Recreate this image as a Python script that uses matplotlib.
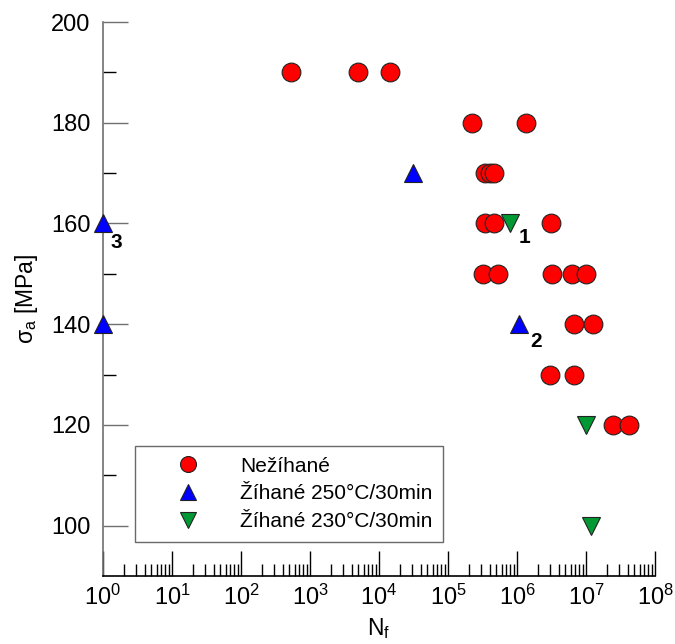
import numpy as np
import matplotlib
matplotlib.use("Agg")
import matplotlib.pyplot as plt
from matplotlib.ticker import LogLocator, FixedLocator, FuncFormatter

plt.rcParams['font.family'] = ['Liberation Sans', 'DejaVu Sans']
plt.rcParams['mathtext.fontset'] = 'custom'
plt.rcParams['mathtext.rm'] = 'Liberation Sans'
plt.rcParams['mathtext.it'] = 'Liberation Sans:italic'

# Nežíhané (red circles)
n_cycles = [530, 5000, 14400,
            2.2e5, 1.35e6,
            3.4e5, 4.1e5, 4.6e5,
            3.4e5, 4.6e5, 3.1e6,
            3.2e5, 5.3e5, 3.2e6, 6.3e6, 1.0e7,
            6.7e6, 1.26e7,
            3.0e6, 6.7e6,
            2.5e7, 4.2e7]
n_stress = [190, 190, 190,
            180, 180,
            170, 170, 170,
            160, 160, 160,
            150, 150, 150, 150, 150,
            140, 140,
            130, 130,
            120, 120]

# Žíhané 250°C/30min (blue up triangles)
a250_cycles = [1, 1, 3.1e4, 1.07e6]
a250_stress = [160, 140, 170, 140]

# Žíhané 230°C/30min (green down triangles)
a230_cycles = [7.9e5, 1.0e7, 1.18e7]
a230_stress = [160, 120, 100]

labels = ["Nežíhané", "Žíhané 250°C/30min", "Žíhané 230°C/30min"]

fig = plt.figure(figsize=(6.75, 6.44), dpi=100)
ax = fig.add_axes([0.1526, 0.1056, 0.8178, 0.8602])

ms = 13.5
ax.plot(n_cycles, n_stress, 'o', ms=ms, mfc='#ff0000', mec='#222222', mew=0.8,
        ls='none', label=labels[0], clip_on=False, zorder=3)
ax.plot(a250_cycles, a250_stress, '^', ms=ms, mfc='#0000ff', mec='#222222', mew=0.8,
        ls='none', label=labels[1], clip_on=False, zorder=3)
ax.plot(a230_cycles, a230_stress, 'v', ms=ms, mfc='#009933', mec='#222222', mew=0.8,
        ls='none', label=labels[2], clip_on=False, zorder=3)

# specimen numbers
ax.text(1.3e6, 157.3, "1", fontsize=15, fontweight='bold', ha='center', va='center')
ax.text(1.9e6, 136.6, "2", fontsize=15, fontweight='bold', ha='center', va='center')
ax.text(1.55, 156.2, "3", fontsize=15, fontweight='bold', ha='center', va='center')

ax.set_xscale('log')
ax.set_xlim(1, 1e8)
ax.set_ylim(90, 200)

ax.xaxis.set_major_locator(LogLocator(base=10, numticks=20))
ax.xaxis.set_minor_locator(LogLocator(base=10, subs=np.arange(2, 10), numticks=20))
ax.xaxis.set_major_formatter(FuncFormatter(lambda v, p: r'$\mathregular{10^{%d}}$' % round(np.log10(v))))
ax.yaxis.set_major_locator(FixedLocator([100, 120, 140, 160, 180, 200]))
ax.yaxis.set_minor_locator(FixedLocator([110, 130, 150, 170, 190]))

ax.tick_params(axis='x', which='major', direction='in', length=18, width=1, labelsize=17, pad=6)
ax.tick_params(axis='x', which='minor', direction='in', length=9, width=1)
ax.tick_params(axis='y', which='major', direction='in', length=18, width=1, labelsize=17,
               pad=9, color='#707070')
ax.tick_params(axis='y', which='minor', direction='in', length=9, width=1)

for s in ['top', 'right']:
    ax.spines[s].set_visible(False)
ax.spines['left'].set_color('#707070')
ax.spines['left'].set_linewidth(1.2)
ax.spines['bottom'].set_linewidth(1.2)

ax.set_ylabel(r'σ$_\mathregular{a}$ [MPa]', fontsize=16.5, labelpad=8)
ax.set_xlabel(r'N$_\mathregular{f}$', fontsize=16.5, labelpad=5)

leg = ax.legend(loc='lower left', bbox_to_anchor=(0.058, 0.062), fontsize=15,
                frameon=True, fancybox=False, edgecolor='#444444', borderpad=0.5,
                handletextpad=0.45, borderaxespad=0, markerscale=0.85,
                labelspacing=0.42, handlelength=4.1)
leg.get_frame().set_linewidth(1.0)

fig.savefig('out.png', dpi=100)
